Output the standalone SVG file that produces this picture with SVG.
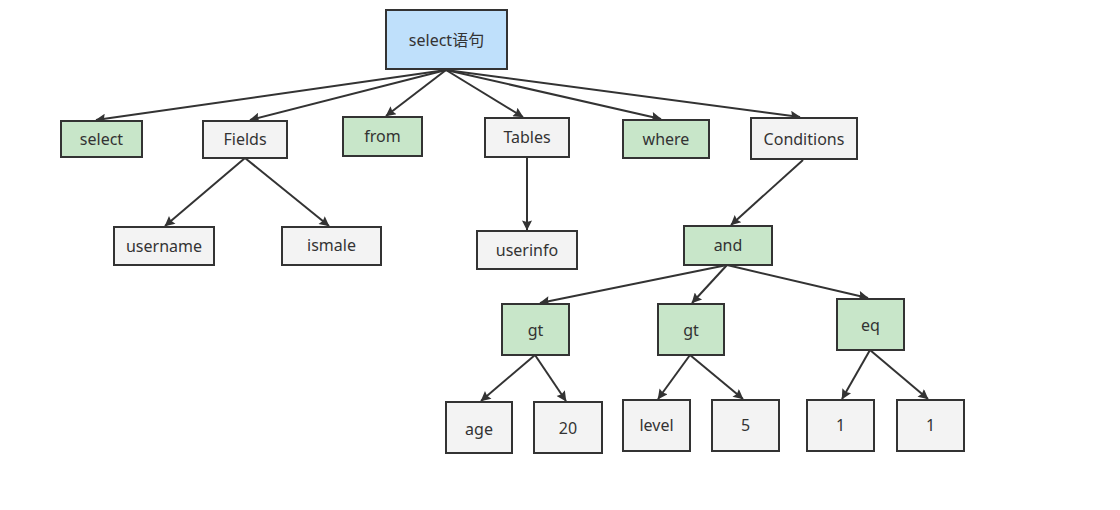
<svg xmlns="http://www.w3.org/2000/svg" width="1120" height="510" viewBox="0 0 1120 510">
<style>
.n rect{stroke:#333;stroke-width:2}
.g rect{fill:#c8e6c9}
.w rect{fill:#f3f3f3}
.b rect{fill:#bfe0fb}
text{font-family:"Noto Sans","Noto Sans CJK SC",sans-serif;font-size:16px;fill:#333;text-anchor:middle;dominant-baseline:central}
#edges line{stroke:#333;stroke-width:2;marker-end:url(#arr)}
</style>
<defs>
<marker id="arr" viewBox="0 0 10 10" refX="9.5" refY="5" markerWidth="14" markerHeight="10" markerUnits="userSpaceOnUse" orient="auto">
<path d="M0,0 L10,5 L0,10 L1.5,5 Z" fill="#333"/>
</marker>
</defs>
<rect width="1120" height="510" fill="#fff"/>
<g id="edges">
<line x1="446" y1="70" x2="96" y2="120"/>
<line x1="446" y1="70" x2="250" y2="120"/>
<line x1="446" y1="70" x2="386" y2="116"/>
<line x1="446" y1="70" x2="523" y2="117"/>
<line x1="446" y1="70" x2="661" y2="119"/>
<line x1="446" y1="70" x2="800" y2="117"/>
<line x1="245" y1="158" x2="165" y2="226"/>
<line x1="245" y1="158" x2="329" y2="226"/>
<line x1="527" y1="157" x2="527" y2="230"/>
<line x1="803" y1="160" x2="731" y2="225"/>
<line x1="727" y1="265" x2="540" y2="303"/>
<line x1="727" y1="265" x2="692" y2="303"/>
<line x1="727" y1="265" x2="868" y2="298"/>
<line x1="535" y1="355" x2="481" y2="401"/>
<line x1="535" y1="355" x2="566" y2="401"/>
<line x1="690" y1="355" x2="658" y2="399"/>
<line x1="690" y1="355" x2="743" y2="399"/>
<line x1="870" y1="350" x2="842" y2="399"/>
<line x1="870" y1="350" x2="928" y2="399"/>
</g>
<g id="root" class="n b"><rect x="386" y="10" width="121" height="59"/><text x="446.5" y="40">select语句</text></g>
<g id="select" class="n g"><rect x="61" y="121" width="81" height="36"/><text x="101.5" y="139">select</text></g>
<g id="fields" class="n w"><rect x="203" y="121" width="84" height="37"/><text x="245" y="139">Fields</text></g>
<g id="from" class="n g"><rect x="343" y="117" width="79" height="39"/><text x="382.5" y="136">from</text></g>
<g id="tables" class="n w"><rect x="485" y="118" width="84" height="39"/><text x="527" y="137">Tables</text></g>
<g id="where" class="n g"><rect x="623" y="120" width="86" height="38"/><text x="666" y="139">where</text></g>
<g id="conditions" class="n w"><rect x="751" y="118" width="106" height="41"/><text x="804" y="139">Conditions</text></g>
<g id="username" class="n w"><rect x="114" y="227" width="100" height="38"/><text x="164" y="246">username</text></g>
<g id="ismale" class="n w"><rect x="282" y="227" width="99" height="38"/><text x="331.5" y="245">ismale</text></g>
<g id="userinfo" class="n w"><rect x="477" y="231" width="100" height="38"/><text x="527" y="250">userinfo</text></g>
<g id="and" class="n g"><rect x="684" y="226" width="88" height="39"/><text x="728" y="245">and</text></g>
<g id="gt1" class="n g"><rect x="502" y="304" width="67" height="51"/><text x="535.5" y="330">gt</text></g>
<g id="gt2" class="n g"><rect x="658" y="304" width="66" height="51"/><text x="691" y="330">gt</text></g>
<g id="eq" class="n g"><rect x="837" y="299" width="67" height="51"/><text x="870.5" y="325">eq</text></g>
<g id="age" class="n w"><rect x="446" y="402" width="66" height="51"/><text x="479" y="429">age</text></g>
<g id="n20" class="n w"><rect x="534" y="402" width="68" height="51"/><text x="568" y="428">20</text></g>
<g id="level" class="n w"><rect x="623" y="400" width="67" height="51"/><text x="656.5" y="425">level</text></g>
<g id="n5" class="n w"><rect x="712" y="400" width="67" height="51"/><text x="745.5" y="425">5</text></g>
<g id="one1" class="n w"><rect x="807" y="400" width="67" height="51"/><text x="840.5" y="425">1</text></g>
<g id="one2" class="n w"><rect x="897" y="400" width="67" height="51"/><text x="930.5" y="425">1</text></g>
</svg>
